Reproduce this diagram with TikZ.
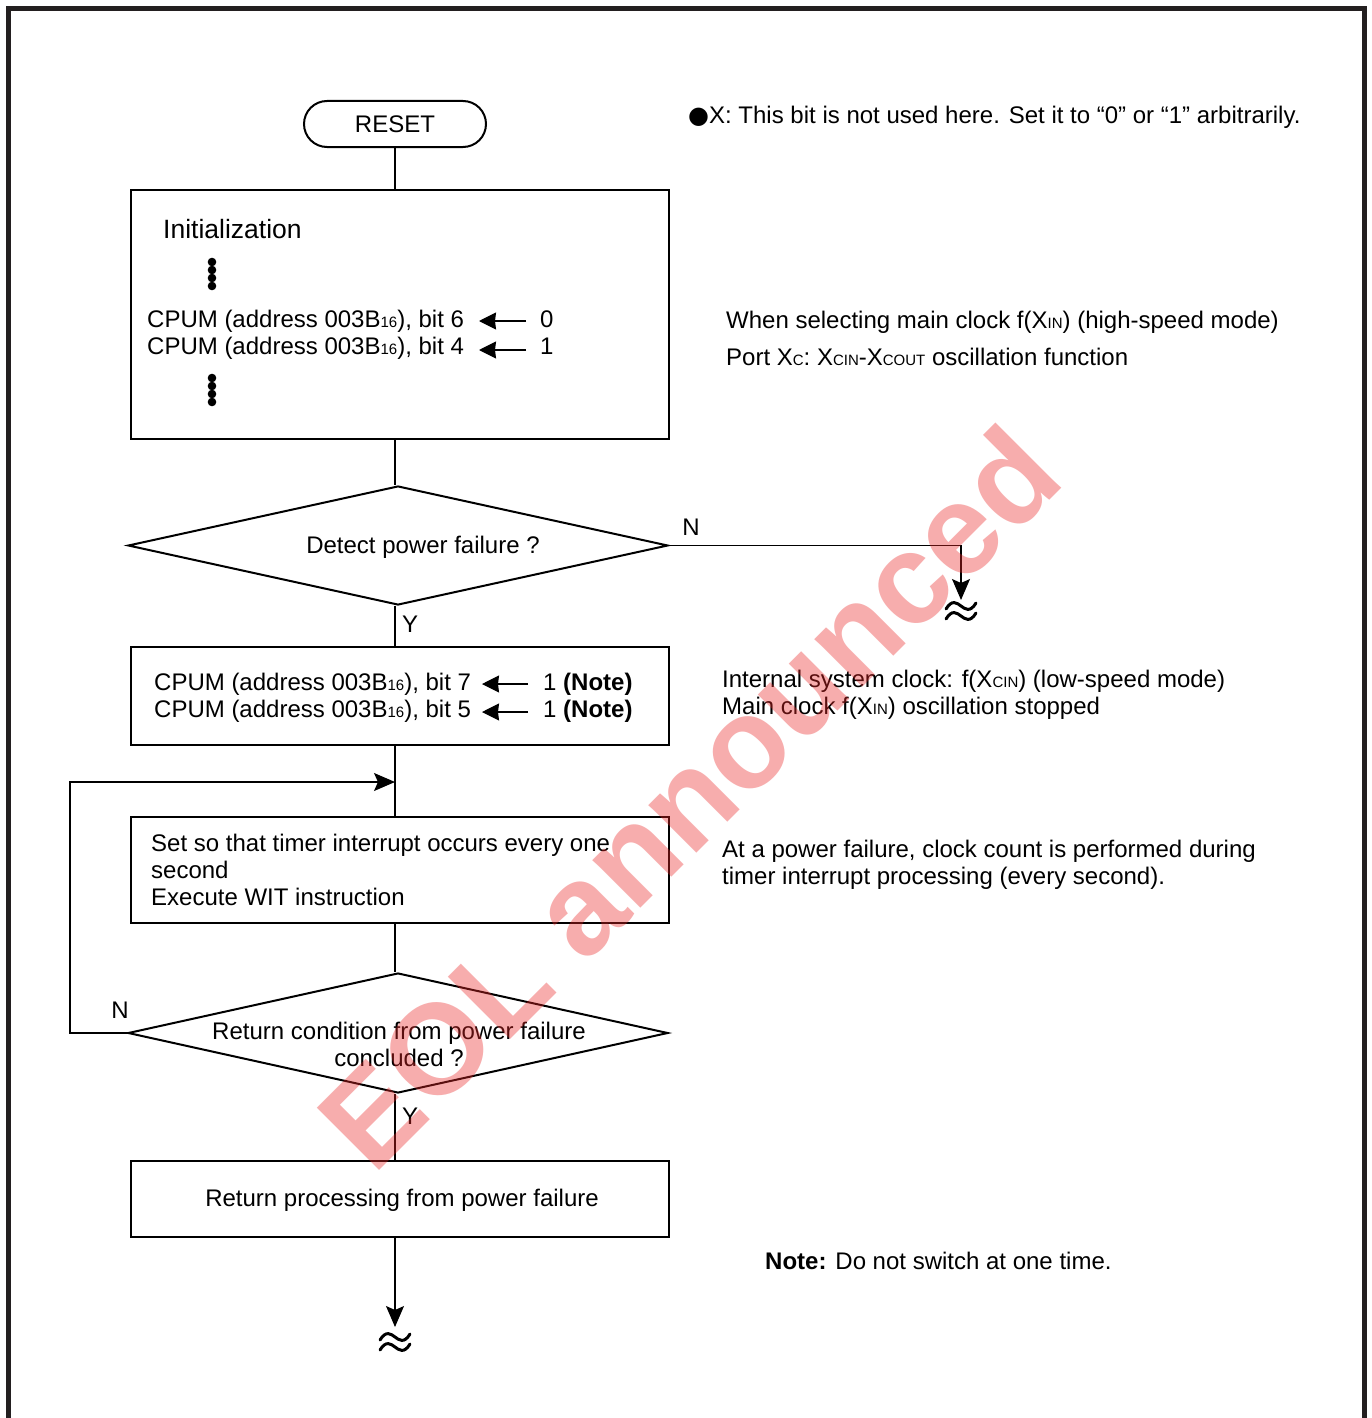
\documentclass[tikz,border=0pt]{standalone}
\usepackage{fontspec}
\setmainfont{Liberation Sans}
\newfontfamily\djv{DejaVu Sans}
\usetikzlibrary{arrows.meta,shapes.geometric}
\definecolor{framec}{RGB}{35,31,32}
\definecolor{wmark}{RGB}{235,40,40}
\newcommand\sbs[1]{{\fontsize{15}{15}\selectfont #1}}
\newcommand\wav[2]{\draw[wave] (#1-15,#2+3) .. controls (#1-9,#2-7) and (#1-4,#2-3) .. (#1,#2) .. controls (#1+4,#2+3) and (#1+9,#2+7) .. (#1+15,#2-3);}
\begin{document}
\begin{tikzpicture}[x=1pt,y=-1pt,
  every node/.style={font=\fontsize{24}{27}\selectfont, inner sep=0pt},
  box/.style={draw, line width=2pt, minimum width=538pt},
  dec/.style={draw, diamond, line width=2pt, minimum width=540pt},
  txt/.style={anchor=base west, align=left},
  ctxt/.style={anchor=base, align=center},
  conn/.style={line width=1.3pt},
  arr/.style={conn, -{Stealth[length=21pt,width=18pt,inset=4pt]}},
  sarr/.style={conn, -{Stealth[length=17pt,width=17pt,inset=1pt]}},
  wave/.style={line width=3pt, line cap=round}
]
\useasboundingbox (0,0) rectangle (1372,1418);
\fill[white] (0,0) rectangle (1372,1418);
\draw[line width=5pt, framec] (8.5,1418) -- (8.5,8.5) -- (1364.5,8.5) -- (1364.5,1418);

% RESET
\node[draw, line width=2pt, rounded corners=23pt, minimum width=182pt, minimum height=46pt] (reset) at (395,124) {RESET};

% Initialization box
\node[box, minimum height=249pt] (init) at (400,314.5) {};
\node[txt, font=\fontsize{26.5}{30}\selectfont] (initt) at (163,238) {Initialization};
\foreach \yy in {262,270,278,286,378,386,394,402} \fill (212,\yy) circle (4.3pt);
\node[txt] (c6) at (147,327) {CPUM (address 003B\sbs{16}), bit 6};
\node[txt] (c4) at (147,354) {CPUM (address 003B\sbs{16}), bit 4};
\node[txt] (v6) at (540,327) {0};
\node[txt] (v4) at (540,354) {1};
\coordinate (a6s) at (526,321); \coordinate (a6e) at (479,321);
\coordinate (a4s) at (526,350); \coordinate (a4e) at (479,350);
\draw[sarr] (a6s) -- (a6e);
\draw[sarr] (a4s) -- (a4e);

% Detect power failure
\node[dec, minimum height=119pt] (d1) at (398,545.5) {};
\node[ctxt] (d1t) at (423,553) {Detect power failure ?};
\node[ctxt] (n1) at (691,535) {N};
\node[ctxt] (y1) at (410,632) {Y};
\coordinate (nend) at (961,600);
\draw[arr] (d1.east) -- (d1.east -| nend) -- (nend);
\wav{961}{606}
\wav{961}{616}

% Box 2
\node[box, minimum height=98pt] (b2) at (400,696) {};
\node[txt] (c7) at (154,690) {CPUM (address 003B\sbs{16}), bit 7};
\node[txt] (c5) at (154,717) {CPUM (address 003B\sbs{16}), bit 5};
\node[txt] (v7) at (543,690) {1 \textbf{(Note)}};
\node[txt] (v5) at (543,717) {1 \textbf{(Note)}};
\coordinate (a7s) at (528,684); \coordinate (a7e) at (482,684);
\coordinate (a5s) at (528,712); \coordinate (a5e) at (482,712);
\draw[sarr] (a7s) -- (a7e);
\draw[sarr] (a5s) -- (a5e);

% Box 3
\node[box, minimum height=106pt] (b3) at (400,870) {};
\node[txt] (b3t) at (151,905) {Set so that timer interrupt occurs every one\\second\\Execute WIT instruction};

% Diamond 2
\node[dec, minimum height=120pt] (d2) at (398,1033) {};
\node[ctxt] (d2t) at (399,1066) {Return condition from power failure\\concluded ?};
\node[ctxt] (n2) at (120,1018) {N};
\node[ctxt] (y2) at (410,1124) {Y};

% Box 4
\node[box, minimum height=76pt] (b4) at (400,1199) {};
\node[ctxt] (b4t) at (402,1206) {Return processing from power failure};

% connectors
\draw[conn] (reset.south) -- (reset |- init.north);
\draw[conn] (reset |- init.south) -- (reset |- d1.north);
\draw[conn] (reset |- d1.south) -- (reset |- b2.north);
\draw[conn] (reset |- b2.south) -- (reset |- b3.north);
\draw[conn] (reset |- b3.south) -- (reset |- d2.north);
\draw[conn] (reset |- d2.south) -- (reset |- b4.north);
\coordinate (lx) at (70,782);
\coordinate (lj) at (395,782);
\draw[arr] (d2.west) -| (lx) -- (lj);
\coordinate (bend) at (395,1327);
\draw[arr] (reset |- b4.south) -- (bend);
\wav{395}{1337}
\wav{395}{1347}

% right-hand notes
\node[txt] (r1) at (688,124) {{\djv ●}X: This bit is not used here. Set it to “0” or “1” arbitrarily.};
\node[txt] (r2) at (726,328) {When selecting main clock f(X\sbs{IN}) (high-speed mode)};
\node[txt] (r3) at (726,365) {Port X\sbs{C}: X\sbs{CIN}-X\sbs{COUT} oscillation function};
\node[txt] (r4) at (722,714) {Internal system clock: f(X\sbs{CIN}) (low-speed mode)\\Main clock f(X\sbs{IN}) oscillation stopped};
\node[txt] (r5) at (722,884) {At a power failure, clock count is performed during\\timer interrupt processing (every second).};
\node[txt] (r6) at (765,1269) {\textbf{Note:} Do not switch at one time.};

% watermark
\node[rotate=45, font=\fontsize{128}{128}\selectfont\bfseries, text=wmark, text opacity=0.38] (wm) at (688,797) {EOL announced};
\end{tikzpicture}
\end{document}
